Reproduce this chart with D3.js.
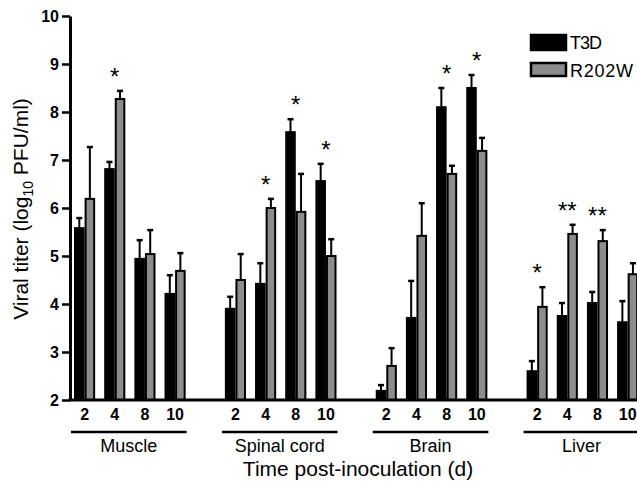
<!DOCTYPE html>
<html>
<head>
<meta charset="utf-8">
<script src="https://cdn.jsdelivr.net/npm/d3@7"></script>
<style>
  body { margin: 0; background: #fff; }
  svg { display: block; font-family: "Liberation Sans", Arial, sans-serif; }
</style>
</head>
<body>
<svg id="chart" width="637" height="487"></svg>
<script>
// data
const tissues = ["Muscle", "Spinal cord", "Brain", "Liver"];
const days = [2, 4, 8, 10];
const series = ["T3D", "R202W"];

// means and upper error (SEM) per tissue x day, in tissue order
const t3dMean  = [5.58, 6.81, 4.94, 4.21,  3.90, 4.42, 7.58, 6.56,  2.19, 3.71, 8.10, 8.50,  2.60, 3.75, 4.02, 3.62];
const t3dErr   = [0.21, 0.15, 0.39, 0.39,  0.25, 0.43, 0.27, 0.36,  0.12, 0.77, 0.40, 0.27,  0.21, 0.27, 0.23, 0.44];
const r202wMean = [6.19, 8.27, 5.04, 4.69,  4.50, 6.00, 5.92, 5.00,  2.71, 5.42, 6.71, 7.19,  3.94, 5.46, 5.31, 4.62];
const r202wErr  = [1.08, 0.17, 0.50, 0.37,  0.54, 0.19, 0.79, 0.35,  0.37, 0.68, 0.17, 0.27,  0.41, 0.19, 0.23, 0.23];
const signif = ["", "*", "", "",  "", "*", "*", "*",  "", "", "*", "*",  "*", "**", "**", ""];

const yTicks = [2, 3, 4, 5, 6, 7, 8, 9, 10];

// build rows
const rows = [];
tissues.forEach((t, ti) => {
  days.forEach((d, di) => {
    const i = ti * 4 + di;
    rows.push({
      key: t + "-" + d, tissue: t, day: d, star: signif[i],
      vals: [
        { s: "T3D", mean: t3dMean[i], err: t3dErr[i] },
        { s: "R202W", mean: r202wMean[i], err: r202wErr[i] }
      ]
    });
  });
});

// slot keys, with an empty slot between tissues
const slots = [];
tissues.forEach((t, ti) => {
  if (ti > 0) slots.push("gap" + ti);
  days.forEach(d => slots.push(t + "-" + d));
});

const svg = d3.select("#chart");
const axisY = 400;

const x = d3.scaleBand()
  .domain(slots)
  .range([69.5, 69.5 + slots.length * 30.17])
  .paddingInner(0.3)
  .paddingOuter(0.15);

const x1 = d3.scaleBand()
  .domain(series)
  .range([0, x.bandwidth()]);

const y = d3.scaleLinear()
  .domain([2, 10])
  .range([axisY, 16]);

const color = d3.scaleOrdinal()
  .domain(series)
  .range(["#000", "#8c8c8c"]);

// bars
const groups = svg.append("g")
  .selectAll("g")
  .data(rows)
  .join("g")
  .attr("transform", d => `translate(${x(d.key)},0)`);

// error bars first (drawn under bar outline)
groups.selectAll("g.err")
  .data(d => d.vals)
  .join("g")
  .attr("class", "err")
  .each(function(v) {
    const g = d3.select(this);
    const cx = x1(v.s) + x1.bandwidth() / 2;
    g.append("line")
      .attr("x1", cx).attr("x2", cx)
      .attr("y1", y(v.mean)).attr("y2", y(v.mean + v.err))
      .attr("stroke", "#000").attr("stroke-width", 2);
    g.append("line")
      .attr("x1", cx - 3).attr("x2", cx + 3)
      .attr("y1", y(v.mean + v.err)).attr("y2", y(v.mean + v.err))
      .attr("stroke", "#000").attr("stroke-width", 2.5);
  });

groups.selectAll("rect")
  .data(d => d.vals)
  .join("rect")
  .attr("x", v => x1(v.s) + 1)
  .attr("y", v => y(v.mean))
  .attr("width", x1.bandwidth() - 2)
  .attr("height", v => y(2) - y(v.mean))
  .attr("fill", v => color(v.s))
  .attr("stroke", "#000")
  .attr("stroke-width", 2);

// significance stars
groups.filter(d => d.star)
  .append("text")
  .attr("x", x.bandwidth() / 2)
  .attr("y", d => y(d3.max(d.vals, v => v.mean + v.err)) - 6)
  .attr("text-anchor", "middle")
  .attr("font-size", 24)
  .text(d => d.star);

// y axis
const yAxis = svg.append("g")
  .attr("transform", "translate(70,0)")
  .call(d3.axisLeft(y).tickValues(yTicks).tickSize(8).tickSizeOuter(0).tickPadding(3));
yAxis.select(".domain").attr("stroke-width", 3);
yAxis.selectAll(".tick line").attr("stroke-width", 2.5);
yAxis.selectAll(".tick text")
  .attr("font-size", 16).attr("font-weight", "bold")
  .attr("font-family", "Liberation Sans, Arial, sans-serif").attr("fill", "#000");

// x axis baseline
svg.append("line")
  .attr("x1", 68.5).attr("x2", 637)
  .attr("y1", axisY).attr("y2", axisY)
  .attr("stroke", "#000").attr("stroke-width", 3);

// day labels
const xAxis = svg.append("g")
  .attr("transform", `translate(0,${axisY})`)
  .call(d3.axisBottom(x)
    .tickValues(rows.map(d => d.key))
    .tickFormat(k => k.split("-").pop())
    .tickSize(0).tickPadding(9));
xAxis.select(".domain").remove();
xAxis.selectAll(".tick text")
  .attr("font-size", 16).attr("font-weight", "bold")
  .attr("font-family", "Liberation Sans, Arial, sans-serif").attr("fill", "#000");

// tissue underline and names
tissues.forEach(t => {
  const x0 = x(t + "-" + days[0]) - 3;
  const xe = x(t + "-" + days[days.length - 1]) + x.bandwidth() + 1;
  svg.append("line")
    .attr("x1", x0).attr("x2", xe)
    .attr("y1", 432).attr("y2", 432)
    .attr("stroke", "#000").attr("stroke-width", 2.5);
  svg.append("text")
    .attr("x", (x0 + xe) / 2)
    .attr("y", 452)
    .attr("text-anchor", "middle")
    .attr("font-size", 18)
    .text(t);
});

// axis titles
svg.append("text")
  .attr("x", 358).attr("y", 476)
  .attr("text-anchor", "middle")
  .attr("font-size", 21)
  .text("Time post-inoculation (d)");

const yt = svg.append("text")
  .attr("transform", "translate(28,209) rotate(-90)")
  .attr("text-anchor", "middle")
  .attr("font-size", 21);
yt.append("tspan").text("Viral titer (log");
yt.append("tspan").attr("font-size", 14).attr("dy", 5).text("10");
yt.append("tspan").attr("dy", -5).text(" PFU/ml)");

// legend
const legend = svg.append("g").attr("transform", "translate(530,34)");
series.forEach((s, i) => {
  const lg = legend.append("g").attr("transform", `translate(0,${i * 28})`);
  lg.append("rect")
    .attr("x", 1).attr("y", 1)
    .attr("width", 35).attr("height", i === 0 ? 15 : 13)
    .attr("fill", color(s))
    .attr("stroke", "#000").attr("stroke-width", 2.5);
  lg.append("text")
    .attr("x", 40).attr("y", 15)
    .attr("font-size", 18)
    .attr("textLength", i === 0 ? 32 : 63)
    .text(s);
});
</script>
</body>
</html>
